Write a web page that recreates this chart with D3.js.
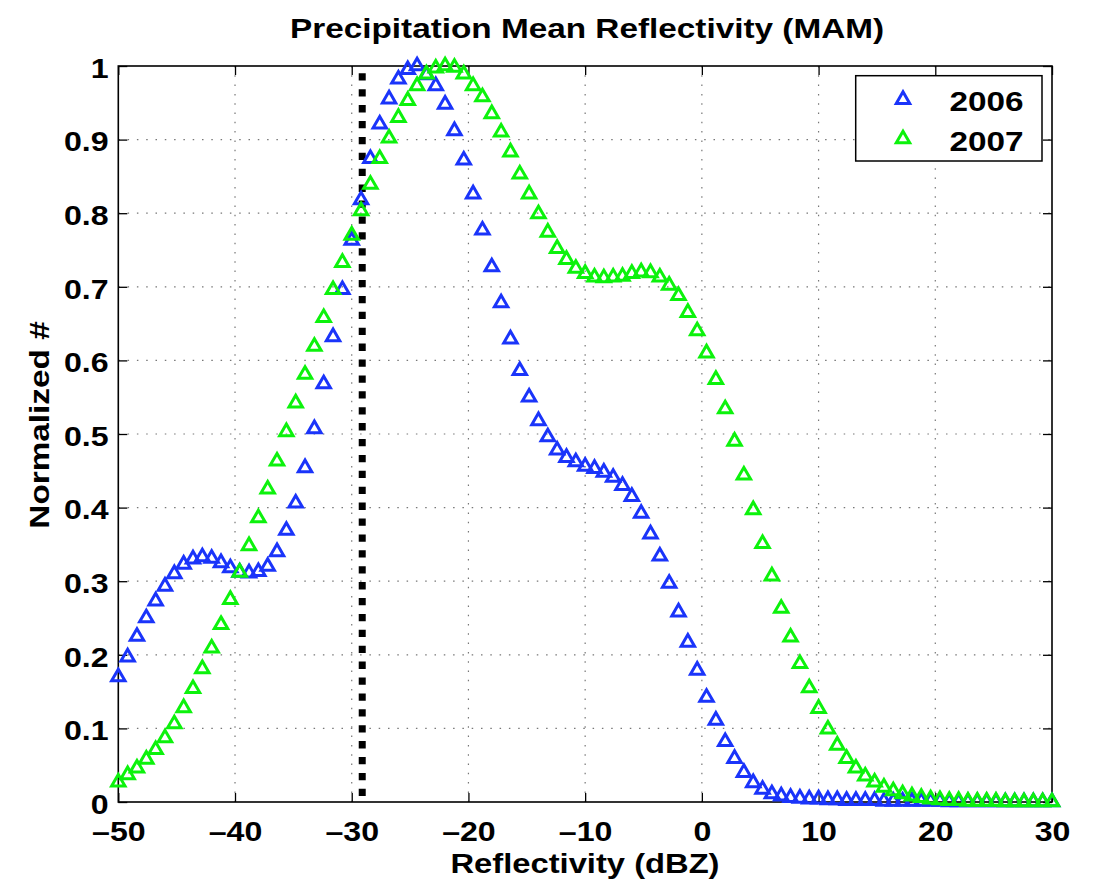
<!DOCTYPE html>
<html>
<head>
<meta charset="utf-8">
<script src="https://cdn.jsdelivr.net/npm/d3@7"></script>
<style>
  body { margin: 0; background: #fff; }
  text { font-family: "Liberation Sans", Arial, Helvetica, sans-serif; font-weight: bold; fill: #000; }
</style>
</head>
<body>
<div id="chart"></div>
<script>
// reflectivity bins (dBZ)
const reflectivity = [
  -50, -49.2, -48.4, -47.6, -46.8, -46, -45.2, -44.4, -43.6, -42.8,
  -42, -41.2, -40.4, -39.6, -38.8, -38, -37.2, -36.4, -35.6, -34.8,
  -34, -33.2, -32.4, -31.6, -30.8, -30, -29.2, -28.4, -27.6, -26.8,
  -26, -25.2, -24.4, -23.6, -22.8, -22, -21.2, -20.4, -19.6, -18.8,
  -18, -17.2, -16.4, -15.6, -14.8, -14, -13.2, -12.4, -11.6, -10.8,
  -10, -9.2, -8.4, -7.6, -6.8, -6, -5.2, -4.4, -3.6, -2.8,
  -2, -1.2, -0.4, 0.4, 1.2, 2, 2.8, 3.6, 4.4, 5.2,
  6, 6.8, 7.6, 8.4, 9.2, 10, 10.8, 11.6, 12.4, 13.2,
  14, 14.8, 15.6, 16.4, 17.2, 18, 18.8, 19.6, 20.4, 21.2,
  22, 22.8, 23.6, 24.4, 25.2, 26, 26.8, 27.6, 28.4, 29.2, 30
];

const values2006 = [
  0.170, 0.197, 0.225, 0.250, 0.273, 0.293, 0.310, 0.323, 0.330, 0.333,
  0.331, 0.325, 0.318, 0.312, 0.311, 0.313, 0.320, 0.340, 0.369, 0.406,
  0.454, 0.507, 0.568, 0.632, 0.696, 0.763, 0.818, 0.874, 0.921, 0.955,
  0.982, 0.995, 1.000, 0.988, 0.973, 0.948, 0.912, 0.872, 0.826, 0.777,
  0.727, 0.678, 0.629, 0.586, 0.550, 0.518, 0.496, 0.478, 0.468, 0.462,
  0.456, 0.453, 0.448, 0.441, 0.430, 0.415, 0.392, 0.364, 0.334, 0.297,
  0.258, 0.217, 0.179, 0.142, 0.111, 0.082, 0.059, 0.040, 0.026, 0.017,
  0.011, 0.008, 0.006, 0.005, 0.004, 0.004, 0.003, 0.003, 0.002, 0.002,
  0.002, 0.002, 0.001, 0.001, 0.001, 0.001, 0.001, 0.001, 0.001, 0.000,
  0.000, 0.000, 0.000, 0.000, 0.000, 0.000, 0.000, 0.000, 0.000, 0.000, 0.000
];

const values2007 = [
  0.027, 0.037, 0.046, 0.058, 0.071, 0.087, 0.106, 0.128, 0.154, 0.181,
  0.209, 0.241, 0.275, 0.312, 0.348, 0.386, 0.425, 0.463, 0.503, 0.542,
  0.581, 0.619, 0.658, 0.696, 0.733, 0.770, 0.803, 0.839, 0.874, 0.902,
  0.930, 0.953, 0.973, 0.989, 0.997, 1.000, 0.998, 0.989, 0.973, 0.958,
  0.935, 0.910, 0.883, 0.853, 0.826, 0.799, 0.774, 0.752, 0.737, 0.725,
  0.718, 0.713, 0.712, 0.713, 0.714, 0.718, 0.720, 0.719, 0.713, 0.702,
  0.688, 0.665, 0.640, 0.610, 0.574, 0.534, 0.490, 0.444, 0.397, 0.351,
  0.307, 0.263, 0.224, 0.188, 0.155, 0.127, 0.099, 0.077, 0.059, 0.046,
  0.035, 0.027, 0.020, 0.015, 0.011, 0.008, 0.006, 0.004, 0.003, 0.002,
  0.002, 0.001, 0.001, 0.001, 0.001, 0.000, 0.000, 0.000, 0.000, 0.000, 0.000
];

const seriesNames = ['2006', '2007'];
const xTicks = [-50, -40, -30, -20, -10, 0, 10, 20, 30];
const yTicks = [0, 0.1, 0.2, 0.3, 0.4, 0.5, 0.6, 0.7, 0.8, 0.9, 1];
const threshold = -29.1;

const colors = ['#1a34fa', '#0cf20c'];
const stretch = 'scale(1.19,1)';

const width = 1099;
const height = 882;
const plot = { left: 118.3, right: 1052, top: 66, bottom: 802 };

const svg = d3
  .select('#chart')
  .append('svg')
  .attr('width', width)
  .attr('height', height)
  .style('background-color', '#fff');

const x = d3.scaleLinear().domain([-50, 30]).range([plot.left, plot.right]);
const y = d3.scaleLinear().domain([0, 1]).range([plot.bottom, plot.top]);

// dotted grid
const grid = svg.append('g')
  .attr('stroke', '#777')
  .attr('stroke-width', 1.2)
  .attr('stroke-dasharray', '1.5,7.8');
grid.selectAll('.gx')
  .data(xTicks.slice(1, -1))
  .enter()
  .append('line')
  .attr('x1', (d) => x(d)).attr('x2', (d) => x(d))
  .attr('y1', plot.top).attr('y2', plot.bottom);
grid.selectAll('.gy')
  .data(yTicks.slice(1, -1))
  .enter()
  .append('line')
  .attr('y1', (d) => y(d)).attr('y2', (d) => y(d))
  .attr('x1', plot.left).attr('x2', plot.right);

// axes, ticks pointing inwards on all four sides
const fmtX = (d) => (d < 0 ? '\u2013' + Math.abs(d) : String(d));
const fmtY = (d) => (d === 0 || d === 1 ? String(d) : d.toFixed(1));

const styleAxis = (g) => {
  g.select('.domain').remove();
  g.selectAll('line').attr('stroke', '#000').attr('stroke-width', 1.3);
  g.selectAll('text')
    .attr('fill', '#000')
    .style('font-size', '27px')
    .attr('transform', stretch);
};

svg.append('g')
  .attr('transform', `translate(0,${plot.bottom})`)
  .call(d3.axisBottom(x).tickValues(xTicks).tickSizeInner(-9).tickSizeOuter(0).tickPadding(20).tickFormat(fmtX))
  .call(styleAxis);

svg.append('g')
  .attr('transform', `translate(0,${plot.top})`)
  .call(d3.axisTop(x).tickValues(xTicks).tickSizeInner(-9).tickSizeOuter(0).tickFormat(''))
  .call(styleAxis);

svg.append('g')
  .attr('transform', `translate(${plot.left},0)`)
  .call(d3.axisLeft(y).tickValues(yTicks).tickSizeInner(-9).tickSizeOuter(0).tickPadding(8.2).tickFormat(fmtY))
  .call(styleAxis)
  .call((g) => g.selectAll('text').attr('dy', '0.42em'));

svg.append('g')
  .attr('transform', `translate(${plot.right},0)`)
  .call(d3.axisRight(y).tickValues(yTicks).tickSizeInner(-9).tickSizeOuter(0).tickFormat(''))
  .call(styleAxis);

svg.append('rect')
  .attr('x', plot.left)
  .attr('y', plot.top)
  .attr('width', plot.right - plot.left)
  .attr('height', plot.bottom - plot.top)
  .attr('fill', 'none')
  .attr('stroke', '#000')
  .attr('stroke-width', 1.6);

// threshold line
svg.append('line')
  .attr('x1', x(threshold)).attr('x2', x(threshold))
  .attr('y1', y(1)).attr('y2', y(0))
  .attr('stroke', '#000')
  .attr('stroke-width', 7)
  .attr('stroke-dasharray', '7.3,8.6')
  .attr('stroke-dashoffset', 8.6);

// triangle markers
const tri = d3.symbol().type(d3.symbolTriangle).size(78);
[values2006, values2007].forEach((vals, k) => {
  svg.append('g')
    .selectAll('path')
    .data(vals)
    .enter()
    .append('path')
    .attr('d', tri)
    .attr('transform', (d, i) => `translate(${x(reflectivity[i])},${y(d)})`)
    .attr('fill', 'none')
    .attr('stroke', colors[k])
    .attr('stroke-width', 3);
});

// legend
const legend = svg.append('g');
legend.append('rect')
  .attr('x', 855.7).attr('y', 75.7)
  .attr('width', 186.3).attr('height', 85.3)
  .attr('fill', '#fff')
  .attr('stroke', '#000')
  .attr('stroke-width', 1.5);
seriesNames.forEach((name, k) => {
  legend.append('path')
    .attr('d', tri)
    .attr('transform', `translate(903,${99.6 + k * 39.3})`)
    .attr('fill', 'none')
    .attr('stroke', colors[k])
    .attr('stroke-width', 3);
  legend.append('g')
    .attr('transform', `translate(949.5,${110.5 + k * 40})`)
    .append('text')
    .attr('transform', stretch)
    .style('font-size', '28px')
    .text(name);
});

// title and axis labels
const label = (tx, ty, rot, str, size) => {
  svg.append('g')
    .attr('transform', `translate(${tx},${ty}) rotate(${rot})`)
    .append('text')
    .attr('transform', stretch)
    .attr('text-anchor', 'middle')
    .style('font-size', size)
    .text(str);
};
label(587, 38.3, 0, 'Precipitation Mean Reflectivity (MAM)', '28px');
label(585, 873, 0, 'Reflectivity (dBZ)', '27.5px');
label(49, 425, -90, 'Normalized #', '28px');
</script>
</body>
</html>
